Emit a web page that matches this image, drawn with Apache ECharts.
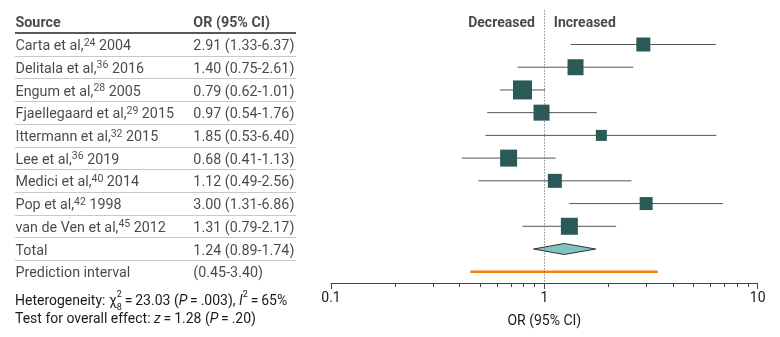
<!DOCTYPE html>
<html>
<head>
<meta charset="utf-8">
<script src="https://cdn.jsdelivr.net/npm/echarts@6/dist/echarts.min.js"></script>
<style>
html, body { margin: 0; padding: 0; background: #fff; }
#chart { width: 780px; height: 337px; }
</style>
</head>
<body>
<div id="chart"></div>
<script>
// study data
let sources = ['Carta et al,', 'Delitala et al,', 'Engum et al,', 'Fjaellegaard et al,', 'Ittermann et al,',
    'Lee et al,', 'Medici et al,', 'Pop et al,', 'van de Ven et al,'];
let refs = ['24', '36', '28', '29', '32', '36', '40', '42', '45'];
let years = ['2004', '2016', '2005', '2015', '2015', '2019', '2014', '1998', '2012'];
let orValues = [2.91, 1.40, 0.79, 0.97, 1.85, 0.68, 1.12, 3.00, 1.31];
let ciLow = [1.33, 0.75, 0.62, 0.54, 0.53, 0.41, 0.49, 1.31, 0.79];
let ciHigh = [6.37, 2.61, 1.01, 1.76, 6.40, 1.13, 2.56, 6.86, 2.17];
let weights = [14, 16, 19, 16, 11, 17, 14, 13, 17];
let total = [1.24, 0.89, 1.74];
let predInterval = [0.45, 3.40];
let minorTicks = [0.2, 0.3, 0.4, 0.5, 0.6, 0.7, 0.8, 0.9, 2, 3, 4, 5, 6, 7, 8, 9];

let textColor = '#1a1a1a';
let fontFamily = 'Roboto';
let fmt = function (v) { return v.toFixed(2); };
let eq = '\u2009=\u2009';

let chart = echarts.init(document.getElementById('chart'));

// table rows: studies, then Total and Prediction interval
let tableData = [];
for (let i = 0; i < sources.length; i++) {
    tableData.push({
        value: [0, i],
        label: { formatter: '{t|' + sources[i] + '}{s|' + refs[i] + '}{t| ' + years[i] + '}' }
    });
    tableData.push({
        value: [0.633, i],
        label: { formatter: '{t|' + fmt(orValues[i]) + ' (' + fmt(ciLow[i]) + '-' + fmt(ciHigh[i]) + ')}' }
    });
}
let n = sources.length;
tableData.push({ value: [0, n], label: { formatter: '{t|Total}' } });
tableData.push({ value: [0.633, n], label: { formatter: '{t|' + fmt(total[0]) + ' (' + fmt(total[1]) + '-' + fmt(total[2]) + ')}' } });
tableData.push({ value: [0, n + 1], label: { formatter: '{t|Prediction interval}' } });
tableData.push({ value: [0.633, n + 1], label: { formatter: '{t|(' + fmt(predInterval[0]) + '-' + fmt(predInterval[1]) + ')}' } });
tableData.push({ value: [0, -1], label: { formatter: '{h|Source}' } });
tableData.push({ value: [0.633, -1], label: { formatter: '{h|OR (95% CI)}' } });

let separators = [];
for (let i = 0; i <= n; i++) {
    separators.push({ yAxis: i + 0.5 });
}

let studyPoints = [];
for (let i = 0; i < n; i++) {
    studyPoints.push([orValues[i], i, weights[i]]);
}
let ciData = [];
for (let i = 0; i < n; i++) {
    ciData.push([ciLow[i], ciHigh[i], i]);
}

let rich = {
    t: { fontSize: 14.3, color: textColor, fontFamily: fontFamily, lineHeight: 18 },
    s: { fontSize: 10.5, color: textColor, fontFamily: fontFamily, verticalAlign: 'top', lineHeight: 11 },
    h: { fontSize: 14.3, color: textColor, fontFamily: fontFamily, fontWeight: 'bold', lineHeight: 18 }
};

let option = {
    animation: false,
    grid: [
        { left: 15, right: 484, top: 10.4, bottom: 53.9 },
        { left: 331, right: 22.3, top: 10.4, bottom: 53.9 }
    ],
    xAxis: [
        { gridIndex: 0, type: 'value', min: 0, max: 1, show: false },
        {
            gridIndex: 1, type: 'log', logBase: 10, min: 0.1, max: 10, splitNumber: 2, position: 'bottom',
            axisLine: { onZero: false, lineStyle: { color: '#444', width: 1 } },
            axisTick: { length: 6, lineStyle: { color: '#444' } },
            splitLine: { show: false },
            axisLabel: { color: textColor, fontSize: 14, fontFamily: fontFamily, margin: 8 },
            name: 'OR (95% CI)', nameLocation: 'middle', nameGap: 31,
            nameTextStyle: { color: textColor, fontSize: 14, fontFamily: fontFamily }
        },
        {
            gridIndex: 1, type: 'log', logBase: 10, min: 0.1, max: 10, position: 'bottom',
            axisLine: { show: false, onZero: false },
            axisTick: { length: 4, customValues: minorTicks, lineStyle: { color: '#444' } },
            axisLabel: { show: false },
            splitLine: { show: false }
        }
    ],
    yAxis: [
        { gridIndex: 0, type: 'value', min: -1.5, max: 10.5, inverse: true, show: false },
        { gridIndex: 1, type: 'value', min: -1.5, max: 10.5, inverse: true, show: false }
    ],
    series: [
        {
            type: 'scatter', xAxisIndex: 0, yAxisIndex: 0, symbolSize: 1,
            itemStyle: { color: 'rgba(0,0,0,0)' },
            label: { show: true, position: 'right', distance: 0, offset: [0, 2], rich: rich },
            data: tableData,
            markLine: {
                silent: true, symbol: 'none', label: { show: false },
                lineStyle: { color: '#c8c8c8', width: 1, type: 'solid' },
                data: [{ yAxis: -0.5, lineStyle: { color: '#222', width: 1.5 } }].concat(separators)
            }
        },
        {
            type: 'custom', xAxisIndex: 1, yAxisIndex: 1,
            renderItem: function (params, api) {
                let a = api.coord([api.value(0), api.value(2)]);
                let b = api.coord([api.value(1), api.value(2)]);
                return {
                    type: 'line',
                    shape: { x1: a[0], y1: a[1], x2: b[0], y2: b[1] },
                    style: { stroke: '#555', lineWidth: 1 }
                };
            },
            data: ciData
        },
        {
            type: 'scatter', xAxisIndex: 1, yAxisIndex: 1, symbol: 'rect',
            symbolSize: function (d) { return d[2]; },
            itemStyle: { color: '#2a5a57', opacity: 1 },
            data: studyPoints,
            markLine: {
                silent: true, symbol: 'none', label: { show: false },
                lineStyle: { color: '#555', width: 1, type: [1, 2] },
                data: [{ xAxis: 1 }]
            }
        },
        {
            type: 'custom', xAxisIndex: 1, yAxisIndex: 1,
            renderItem: function (params, api) {
                let row = api.value(3);
                let l = api.coord([api.value(1), row]);
                let c = api.coord([api.value(0), row]);
                let r = api.coord([api.value(2), row]);
                let h = 5.5;
                return {
                    type: 'polygon',
                    shape: { points: [[l[0], l[1]], [c[0], c[1] - h], [r[0], r[1]], [c[0], c[1] + h]] },
                    style: { fill: '#7fc4c2', stroke: '#333', lineWidth: 1 }
                };
            },
            data: [[total[0], total[1], total[2], n]]
        },
        {
            type: 'custom', xAxisIndex: 1, yAxisIndex: 1,
            renderItem: function (params, api) {
                let a = api.coord([api.value(0), api.value(2)]);
                let b = api.coord([api.value(1), api.value(2)]);
                return {
                    type: 'line',
                    shape: { x1: a[0], y1: a[1], x2: b[0], y2: b[1] },
                    style: { stroke: '#f5820f', lineWidth: 2.5 }
                };
            },
            data: [[predInterval[0], predInterval[1], n + 1]]
        },
        {
            type: 'scatter', xAxisIndex: 1, yAxisIndex: 1, symbolSize: 1,
            itemStyle: { color: 'rgba(0,0,0,0)' },
            label: {
                show: true, distance: 9, offset: [0, 1.5], color: textColor, fontSize: 14,
                fontFamily: fontFamily, fontWeight: 'bold'
            },
            data: [
                { value: [1, -1], label: { position: 'left', formatter: 'Decreased' } },
                { value: [1, -1], label: { position: 'right', formatter: 'Increased' } }
            ]
        }
    ],
    graphic: [
        {
            type: 'text', left: 15, top: 290.5,
            style: {
                text: '{t|Heterogeneity: χ}{sw|2}{b|8}{t|' + eq + '23.03 (}{i|P}{t|' + eq + '.003), }{i|I}{s|2}{t|' + eq + '65%}',
                rich: {
                    t: { fontSize: 14, fill: textColor, fontFamily: fontFamily, lineHeight: 22 },
                    i: { fontSize: 14, fill: textColor, fontFamily: fontFamily, fontStyle: 'italic', lineHeight: 22 },
                    s: { fontSize: 9, fill: textColor, fontFamily: fontFamily, verticalAlign: 'top', lineHeight: 10 },
                    sw: { fontSize: 9, fill: textColor, fontFamily: fontFamily, verticalAlign: 'top', lineHeight: 10, width: 0.1 },
                    b: { fontSize: 9, fill: textColor, fontFamily: fontFamily, verticalAlign: 'bottom', lineHeight: 10 }
                }
            }
        },
        {
            type: 'text', left: 15, top: 312,
            style: {
                text: '{t|Test for overall effect: }{i|z}{t|' + eq + '1.28 (}{i|P}{t|' + eq + '.20)}',
                rich: {
                    t: { fontSize: 14, fill: textColor, fontFamily: fontFamily, lineHeight: 22 },
                    i: { fontSize: 14, fill: textColor, fontFamily: fontFamily, fontStyle: 'italic', lineHeight: 22 }
                }
            }
        }
    ]
};
chart.setOption(option);
</script>
</body>
</html>
